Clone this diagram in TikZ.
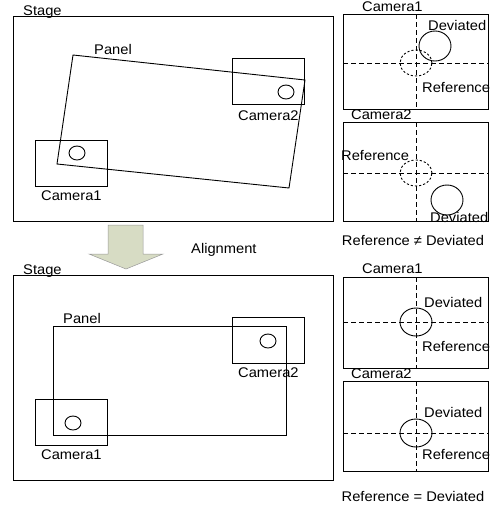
\documentclass[tikz,border=0pt]{standalone}
\usepackage{fontspec}
\setmainfont{Liberation Sans}[FakeStretch=1.05]
\definecolor{arrowfill}{RGB}{215,220,196}
\begin{document}
\begin{tikzpicture}[x=1pt,y=-1pt,
  lbl/.style={anchor=base west,inner sep=0pt,font=\fontsize{14}{16}\selectfont},
  box/.style={draw=black,line width=0.9pt},
  dline/.style={draw=black,line width=0.9pt,dash pattern=on 5pt off 3pt},
  refcirc/.style={draw=black,line width=0.9pt,dash pattern=on 2.2pt off 2pt},
  devcirc/.style={draw=black,line width=0.9pt}]
\path[use as bounding box] (0,0) rectangle (497,506);

% ---------- top-left: before alignment ----------
\draw[box] (13,16) rectangle (333,221);
\node[lbl] (stage1) at (23,15) {Stage};
\draw[box] (73,55) -- (305,80) -- (289,188) -- (57,164) -- cycle;
\node[lbl] (panel1) at (94,54) {Panel};
\draw[box] (232,58) rectangle (304,104);
\draw[box] (286,92) ellipse [x radius=8pt, y radius=7pt];
\node[lbl] (cam2a) at (238,120) {Camera2};
\draw[box] (35,140) rectangle (107,186);
\draw[box] (77,153) ellipse [x radius=8pt, y radius=7pt];
\node[lbl] (cam1a) at (41,200) {Camera1};

% ---------- arrow ----------
\draw[fill=arrowfill,draw=gray!80,line width=0.5pt]
  (108,225) -- (143,225) -- (143,254) -- (163,254) -- (126,269) -- (89,254) -- (108,254) -- cycle;
\node[lbl] (align) at (191,253) {Alignment};

% ---------- bottom-left: after alignment ----------
\draw[box] (13,275) rectangle (333,480);
\node[lbl] (stage2) at (23,274) {Stage};
\draw[box] (53,326) rectangle (286,435);
\node[lbl] (panel2) at (63,323) {Panel};
\draw[box] (232,317) rectangle (304,363);
\draw[box] (268,341) ellipse [x radius=8pt, y radius=7pt];
\node[lbl] (cam2b) at (238,377) {Camera2};
\draw[box] (35,399) rectangle (107,445);
\draw[box] (73,423) ellipse [x radius=8pt, y radius=7pt];
\node[lbl] (cam1b) at (41,459) {Camera1};

% ---------- right top: Camera1 before ----------
\draw[box] (343,14) rectangle (488,109);
\draw[dline] (416,14) -- (416,109);
\draw[dline] (343,63) -- (488,63);
\draw[refcirc] (416,63) ellipse [x radius=16pt, y radius=13pt];
\draw[devcirc] (435,46) ellipse [x radius=16pt, y radius=15pt];
\node[lbl] (rc1a) at (362,11) {Camera1};
\node[lbl] (dev1a) at (428,30) {Deviated};
\node[lbl] (ref1a) at (422,92) {Reference};

% ---------- right top: Camera2 before ----------
\draw[box] (343,122) rectangle (488,221);
\draw[dline] (416,122) -- (416,221);
\draw[dline] (343,173) -- (488,173);
\draw[refcirc] (416,173) ellipse [x radius=16pt, y radius=13pt];
\draw[devcirc] (447,200) ellipse [x radius=16pt, y radius=15pt];
\node[lbl] (rc2a) at (351,119) {Camera2};
\node[lbl] (ref2a) at (341,160) {Reference};
\node[lbl] (dev2a) at (430,222) {Deviated};
\node[lbl,anchor=base] (neq) at (413,245) {Reference ≠ Deviated};

% ---------- right bottom: Camera1 after ----------
\draw[box] (343,277) rectangle (488,368);
\draw[dline] (416,277) -- (416,368);
\draw[dline] (343,322) -- (488,322);
\draw[devcirc] (416,322) ellipse [x radius=16pt, y radius=14pt];
\node[lbl] (rc1b) at (362,273) {Camera1};
\node[lbl] (dev1b) at (424,307) {Deviated};
\node[lbl] (ref1b) at (422,351) {Reference};

% ---------- right bottom: Camera2 after ----------
\draw[box] (343,381) rectangle (488,471);
\draw[dline] (416,381) -- (416,471);
\draw[dline] (343,433) -- (488,433);
\draw[devcirc] (416,433) ellipse [x radius=16pt, y radius=14pt];
\node[lbl] (rc2b) at (351,378) {Camera2};
\node[lbl] (dev2b) at (424,417) {Deviated};
\node[lbl] (ref2b) at (422,459) {Reference};
\node[lbl,anchor=base] (eq) at (413,501) {Reference = Deviated};
\end{tikzpicture}
\end{document}
